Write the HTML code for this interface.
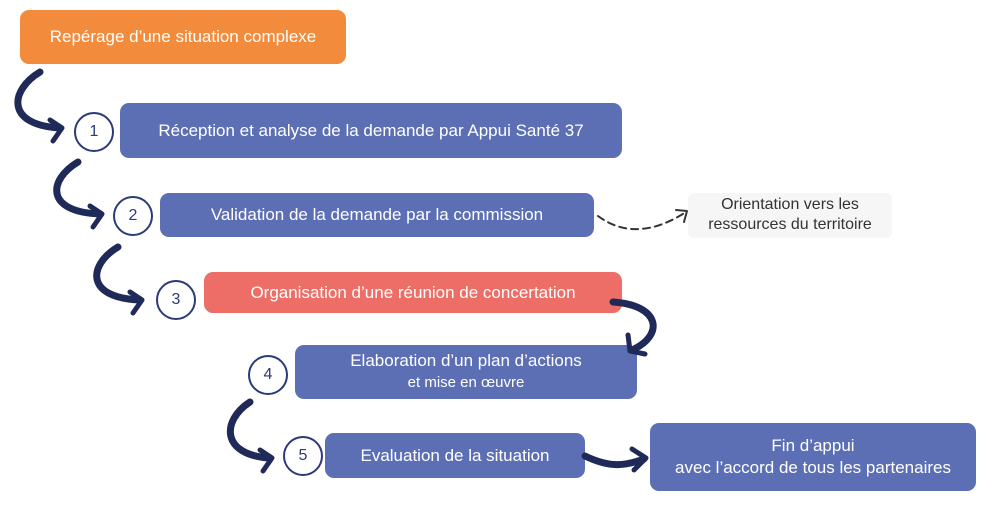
<!DOCTYPE html>
<html><head><meta charset="utf-8"><style>
body{margin:0;width:996px;height:510px;background:#fff;position:relative;overflow:hidden;font-family:"Liberation Sans",sans-serif}
.b{position:absolute;color:#fff;border-radius:9px;display:flex;flex-direction:column;align-items:center;justify-content:center;text-align:center;font-size:17px;line-height:22px}
.bl{background:#5c6fb4}
.c{position:absolute;width:40px;height:40px;border:2px solid #2c3a78;border-radius:50%;background:#fff;color:#2c3a78;font-size:16px;display:flex;align-items:center;justify-content:center;box-sizing:border-box}
</style></head><body>
<div class="b" style="left:20px;top:10px;width:326px;height:54px;background:#f28b3c">Repérage d’une situation complexe</div>
<div class="b bl" style="left:120px;top:103px;width:502px;height:55px">Réception et analyse de la demande par Appui Santé 37</div>
<div class="b bl" style="left:160px;top:193px;width:434px;height:44px">Validation de la demande par la commission</div>
<div class="b" style="left:204px;top:272px;width:418px;height:41px;background:#ec6e66">Organisation d’une réunion de concertation</div>
<div class="b bl" style="left:295px;top:345px;width:342px;height:54px"><div>Elaboration d’un plan d’actions</div><div style="font-size:15px">et mise en œuvre</div></div>
<div class="b bl" style="left:325px;top:433px;width:260px;height:45px">Evaluation de la situation</div>
<div class="b bl" style="left:650px;top:423px;width:326px;height:68px"><div>Fin d’appui</div><div>avec l’accord de tous les partenaires</div></div>
<div style="position:absolute;left:688px;top:193px;width:204px;height:45px;background:#f6f6f6;border-radius:6px;color:#333;font-size:16px;line-height:20px;text-align:center;padding-top:2px;box-sizing:border-box">Orientation vers les<br>ressources du territoire</div>
<div class="c" style="left:74px;top:112px">1</div>
<div class="c" style="left:113px;top:196px">2</div>
<div class="c" style="left:156px;top:280px">3</div>
<div class="c" style="left:248px;top:355px">4</div>
<div class="c" style="left:283px;top:436px">5</div>
<svg width="996" height="510" style="position:absolute;left:0;top:0" fill="none" stroke="#1f2a58" stroke-linecap="round" stroke-linejoin="round">
<g stroke-width="7">
<path d="M40 72 C10 90,5 125,60 128"/>
<path d="M78 162 C48 180,45 212,100 214"/>
<path d="M118 247 C88 265,85 298,140 300"/>
<path d="M613 302 C660 305,665 335,632 350"/>
<path d="M250 402 C222 420,220 455,270 458"/>
<path d="M585 456 C610 468,625 466,644 459"/>
</g>
<g stroke-width="5">
<path d="M50 120 L62 128 L53 141"/>
<path d="M90 206 L102 214 L93 227"/>
<path d="M130 292 L142 300 L133 313"/>
<path d="M628 335 L630 351 L645 354"/>
<path d="M260 450 L272 458 L263 471"/>
<path d="M632 449 L646 458 L634 470"/>
</g>
<path d="M598 216 C625 236,655 232,686 212" stroke="#333" stroke-width="2" stroke-dasharray="7 5"/>
<path d="M676 210 L687 211 L684 222" stroke="#333" stroke-width="2"/>
</svg>
</body></html>
